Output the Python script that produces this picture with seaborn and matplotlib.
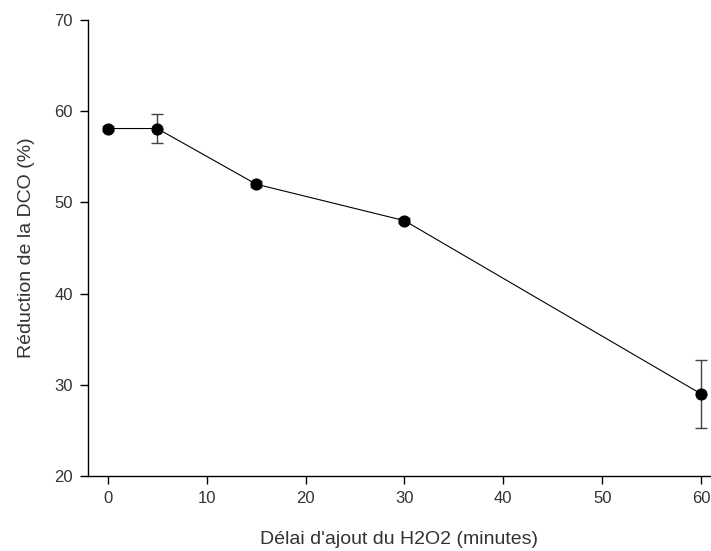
import matplotlib
matplotlib.use("Agg")
import matplotlib.pyplot as plt
import seaborn as sns
import pandas as pd

# Data
delai = [0, 5, 15, 30, 60]
reduction = [58.1, 58.1, 52.0, 48.0, 29.0]
erreur = [0.3, 1.6, 0.3, 0.3, 3.75]
xticks = [0, 10, 20, 30, 40, 50, 60]
yticks = [20, 30, 40, 50, 60, 70]

sns.set_theme(style="ticks")
plt.rcParams['font.family'] = ['Liberation Sans', 'DejaVu Sans']

df = pd.DataFrame({"x": delai, "y": reduction, "err": erreur})

fig = plt.figure(figsize=(7.11, 5.51), dpi=100)
ax = fig.add_axes([88/711, 75/551, 623/711, 456/551])

ax.errorbar(df["x"], df["y"], yerr=df["err"], fmt="none", ecolor="#444444",
            elinewidth=1.0, capsize=4.5, capthick=1.0, zorder=2)
sns.lineplot(data=df, x="x", y="y", ax=ax, color="black", linewidth=0.8,
             marker="o", markersize=8, markeredgecolor="black",
             markerfacecolor="black", zorder=3)

ax.set_xlim(-2, 61)
ax.set_ylim(20, 70)
ax.set_xticks(xticks)
ax.set_yticks(yticks)
ax.tick_params(axis="both", direction="out", length=6, width=1, colors="black",
               labelcolor="#333333", labelsize=12)
ax.tick_params(axis="x", pad=5)
ax.tick_params(axis="y", pad=5)
for s in ["top", "right"]:
    ax.spines[s].set_visible(False)
for s in ["left", "bottom"]:
    ax.spines[s].set_linewidth(1.0)
    ax.spines[s].set_color("black")

ax.set_xlabel("Délai d'ajout du H2O2 (minutes)", fontsize=14, color="#333333", labelpad=18)
ax.set_ylabel("Réduction de la DCO (%)", fontsize=14, color="#333333", labelpad=14)

fig.savefig("out.png", dpi=100)
